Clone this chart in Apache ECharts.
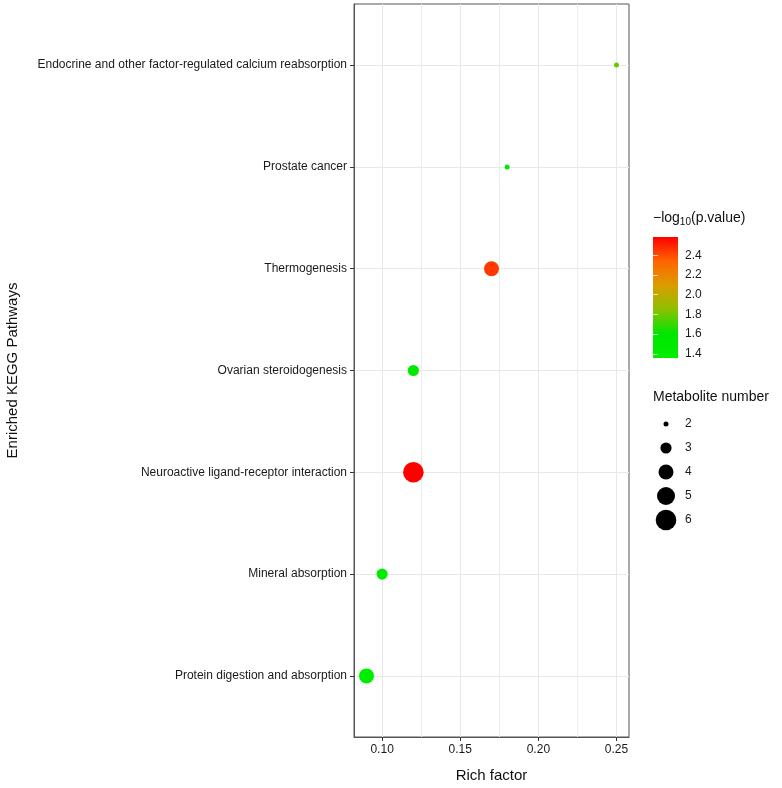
<!DOCTYPE html>
<html>
<head>
<meta charset="utf-8">
<script src="https://cdn.jsdelivr.net/npm/echarts@6/dist/echarts.min.js"></script>
<style>
html, body { margin: 0; padding: 0; background: #fff; }
#main { width: 782px; height: 788px; }
</style>
</head>
<body>
<div id="main"></div>
<script>
// pathways listed top to bottom
const pathways = [
    'Endocrine and other factor-regulated calcium reabsorption',
    'Prostate cancer',
    'Thermogenesis',
    'Ovarian steroidogenesis',
    'Neuroactive ligand-receptor interaction',
    'Mineral absorption',
    'Protein digestion and absorption'
];
const richFactor = [0.25, 0.18, 0.17, 0.12, 0.12, 0.10, 0.09];
const logP = [1.78, 1.55, 2.45, 1.50, 2.585, 1.40, 1.357];
const metaboliteNum = [2, 2, 4, 3, 6, 3, 4];

const xTicks = [0.10, 0.15, 0.20, 0.25];
const xMinorTicks = [0.125, 0.175, 0.225];
const colorTicks = [1.4, 1.6, 1.8, 2.0, 2.2, 2.4];
const sizeLegend = [2, 3, 4, 5, 6];
const gradientColors = ['#00ee00', '#00e600', '#8cc000', '#dc9c00', '#ff6400', '#ff0000'];

const FONT = 'Liberation Sans, Arial, sans-serif';
const pMin = Math.min(...logP);
const pMax = Math.max(...logP);
const yIdx = pathways.map((p, i) => i + 1);

// diameter in px for a metabolite count
function dotSize(n) {
    return 10 * Math.sqrt(n - 1.75);
}

let myChart = echarts.init(document.getElementById('main'));

let barStops = gradientColors.map((c, i) => ({
    offset: 1 - i / (gradientColors.length - 1),
    color: c
}));

let option = {
    backgroundColor: '#fff',
    animation: false,
    textStyle: { fontFamily: FONT },
    grid: [
        { left: 354, top: 4, right: 153, bottom: 51, show: true, borderColor: '#555', borderWidth: 1, backgroundColor: 'transparent' },
        { left: 653, top: 237, width: 25, height: 121, show: true, borderWidth: 0,
          backgroundColor: new echarts.graphic.LinearGradient(0, 0, 0, 1, barStops) },
        { left: 656, top: 412, width: 20, height: 120 }
    ],
    xAxis: [
        {
            gridIndex: 0, type: 'value', min: 0.082, max: 0.258,
            name: 'Rich factor', nameLocation: 'middle', nameGap: 31,
            nameTextStyle: { fontSize: 15, color: '#111', fontFamily: FONT },
            axisLine: { show: true, lineStyle: { color: '#555' } },
            axisTick: { show: true, customValues: xTicks, length: 4, lineStyle: { color: '#333' } },
            axisLabel: { customValues: xTicks, fontSize: 12, color: '#1a1a1a', margin: 7, formatter: v => v.toFixed(2) },
            splitLine: { show: true, lineStyle: { color: '#e8e8e8', width: 1 } }
        },
        { gridIndex: 1, type: 'value', show: false },
        { gridIndex: 2, type: 'value', min: -1, max: 1, show: false },
        {
            gridIndex: 0, type: 'value', min: 0.082, max: 0.258, position: 'top',
            axisLine: { show: false },
            axisTick: { show: false, customValues: xMinorTicks },
            axisLabel: { show: false, customValues: xMinorTicks },
            splitLine: { show: true, lineStyle: { color: '#ededed', width: 1 } }
        }
    ],
    yAxis: [
        {
            gridIndex: 0, type: 'value', min: 0.4, max: 7.6, inverse: true,
            name: 'Enriched KEGG Pathways', nameLocation: 'middle', nameGap: 334,
            nameTextStyle: { fontSize: 15, color: '#111', fontFamily: FONT },
            axisLine: { show: true, lineStyle: { color: '#555' } },
            axisTick: { show: true, customValues: yIdx, length: 4, lineStyle: { color: '#333' } },
            axisLabel: { customValues: yIdx, fontSize: 12, color: '#1a1a1a', margin: 7, formatter: v => pathways[Math.round(v) - 1] || '' },
            splitLine: { show: true, lineStyle: { color: '#e8e8e8', width: 1 } }
        },
        {
            gridIndex: 1, type: 'value', min: pMin, max: pMax, position: 'right',
            axisLine: { show: false },
            axisTick: { show: true, inside: true, length: 5, customValues: colorTicks, lineStyle: { color: '#ffffff', opacity: 0.7 } },
            axisLabel: { customValues: colorTicks, fontSize: 12, color: '#1a1a1a', margin: 7, formatter: v => v.toFixed(1) },
            splitLine: { show: false }
        },
        {
            gridIndex: 2, type: 'category', data: sizeLegend.map(String), inverse: true, position: 'right',
            axisLine: { show: false },
            axisTick: { show: false },
            axisLabel: { fontSize: 12, color: '#1a1a1a', margin: 9 },
            splitLine: { show: false }
        },
        {
            gridIndex: 1, type: 'value', min: pMin, max: pMax, position: 'left',
            axisLine: { show: false },
            axisTick: { show: true, inside: true, length: 5, customValues: colorTicks, lineStyle: { color: '#ffffff', opacity: 0.7 } },
            axisLabel: { show: false, customValues: colorTicks },
            splitLine: { show: false }
        }
    ],
    visualMap: {
        show: false,
        type: 'continuous',
        seriesIndex: 0,
        dimension: 2,
        min: pMin,
        max: pMax,
        inRange: { color: gradientColors }
    },
    graphic: [
        {
            type: 'text', x: 653, y: 218,
            style: {
                text: '\u2212log{sub|10}(p.value)',
                fontSize: 14, fontFamily: FONT, fill: '#111', verticalAlign: 'middle',
                rich: { sub: { fontSize: 10, fontFamily: FONT, fill: '#111', padding: [8, 0, 0, 0] } }
            }
        },
        {
            type: 'text', x: 653, y: 397,
            style: { text: 'Metabolite number', fontSize: 14, fontFamily: FONT, fill: '#111', verticalAlign: 'middle' }
        }
    ],
    series: [
        {
            type: 'scatter',
            xAxisIndex: 0, yAxisIndex: 0,
            symbol: 'circle',
            symbolSize: d => dotSize(d[3]),
            itemStyle: { opacity: 1 },
            data: richFactor.map((x, i) => [x, yIdx[i], logP[i], metaboliteNum[i]]),
            z: 5
        },
        {
            type: 'scatter',
            xAxisIndex: 2, yAxisIndex: 2,
            symbol: 'circle',
            symbolSize: d => dotSize(sizeLegend[d[1]]),
            itemStyle: { color: '#000', opacity: 1 },
            data: sizeLegend.map((n, i) => [0, i])
        }
    ]
};
myChart.setOption(option);
window.onresize = function () {
    myChart.resize();
};
</script>
</body>
</html>
